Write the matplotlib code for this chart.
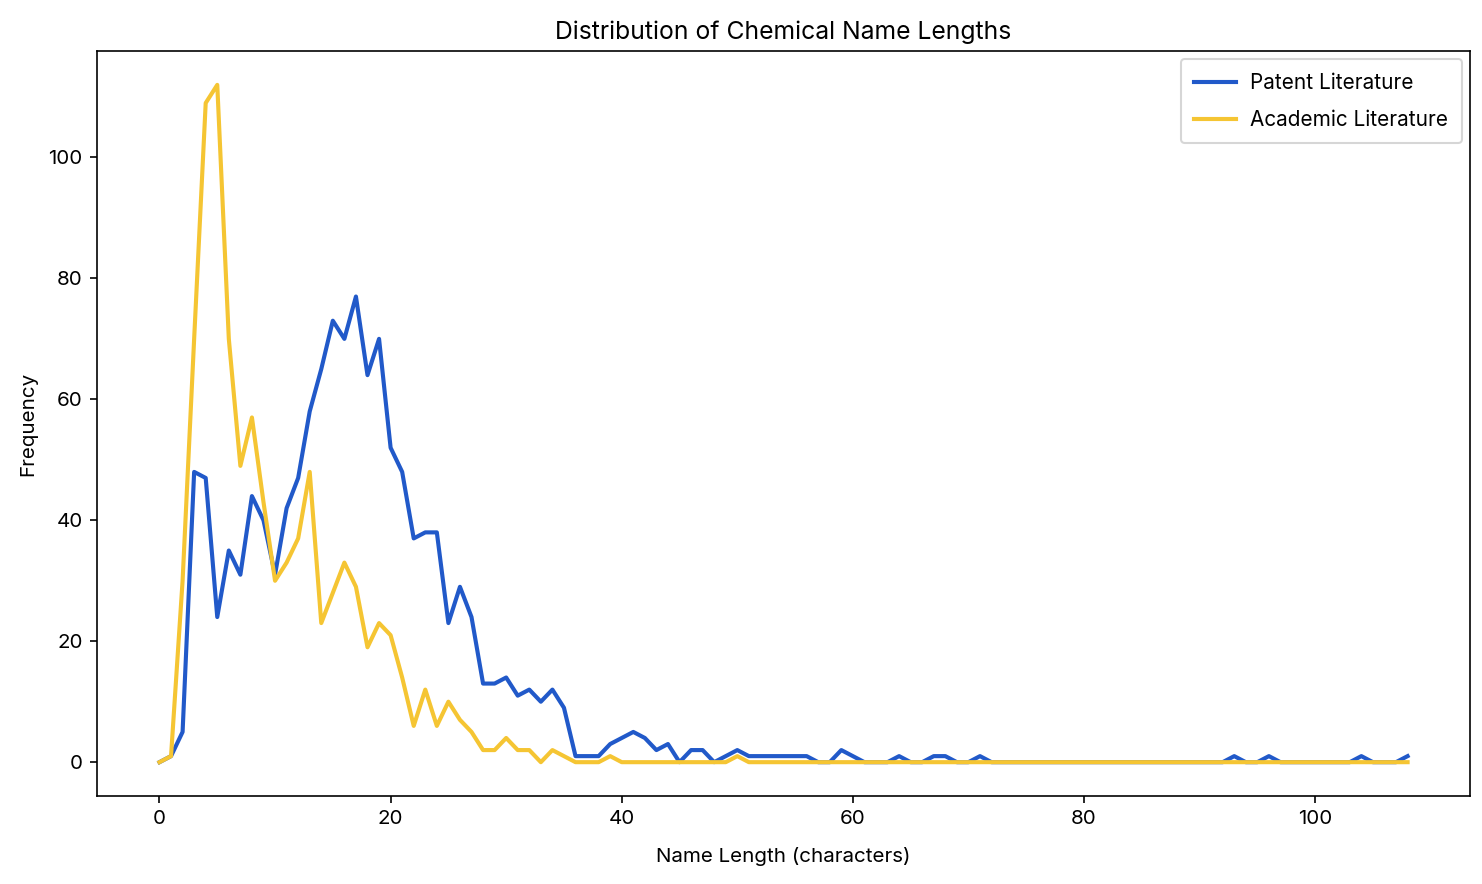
import matplotlib
matplotlib.use("Agg")
import matplotlib.pyplot as plt

plt.rcParams['font.family'] = ['Inter', 'DejaVu Sans']

# name lengths 0..108
lengths = list(range(0, 109))

patent = [0, 1, 5, 48, 47, 24, 35, 31, 44, 40,
          31, 42, 47, 58, 65, 73, 70, 77, 64, 70,
          52, 48, 37, 38, 38, 23, 29, 24, 13, 13,
          14, 11, 12, 10, 12, 9, 1, 1, 1, 3,
          4, 5, 4, 2, 3, 0, 2, 2, 0, 1,
          2, 1, 1, 1, 1, 1, 1, 0, 0, 2,
          1, 0, 0, 0, 1, 0, 0, 1, 1, 0,
          0, 1, 0, 0, 0, 0, 0, 0, 0, 0,
          0, 0, 0, 0, 0, 0, 0, 0, 0, 0,
          0, 0, 0, 1, 0, 0, 1, 0, 0, 0,
          0, 0, 0, 0, 1, 0, 0, 0, 1]

academic = [0, 1, 30, 70, 109, 112, 70, 49, 57, 43,
            30, 33, 37, 48, 23, 28, 33, 29, 19, 23,
            21, 14, 6, 12, 6, 10, 7, 5, 2, 2,
            4, 2, 2, 0, 2, 1, 0, 0, 0, 1,
            0, 0, 0, 0, 0, 0, 0, 0, 0, 0,
            1, 0, 0, 0, 0, 0, 0, 0, 0, 0,
            0, 0, 0, 0, 0, 0, 0, 0, 0, 0,
            0, 0, 0, 0, 0, 0, 0, 0, 0, 0,
            0, 0, 0, 0, 0, 0, 0, 0, 0, 0,
            0, 0, 0, 0, 0, 0, 0, 0, 0, 0,
            0, 0, 0, 0, 0, 0, 0, 0, 0]

fig, ax = plt.subplots(figsize=(10, 884 / 148.2), dpi=148.2)
fig.subplots_adjust(left=0.0655, right=0.9919, top=0.9423, bottom=0.0995)

ax.plot(lengths, patent, color='#2159c9', linewidth=2, label='Patent Literature')
ax.plot(lengths, academic, color='#f5c533', linewidth=2, label='Academic Literature')

ax.set_title("Distribution of Chemical Name Lengths", fontsize=12)
ax.set_xlabel("Name Length (characters)", labelpad=9)
ax.set_ylabel("Frequency", labelpad=5.5)
ax.legend(loc='upper right', fontsize=10.1, labelspacing=0.82,
          handletextpad=0.7, borderpad=0.65, borderaxespad=0.4)

fig.savefig("out.png", dpi=148.2)
